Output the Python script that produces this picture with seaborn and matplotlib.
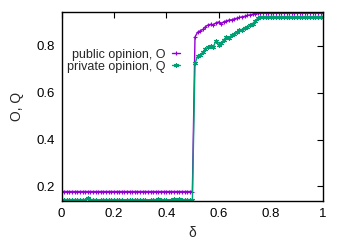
import numpy as np
import pandas as pd
import matplotlib
matplotlib.use("Agg")
import matplotlib.pyplot as plt
import seaborn as sns

delta = [round(i * 0.01, 2) for i in range(101)]

public_O = [
    0.178, 0.178, 0.178, 0.178, 0.178, 0.178, 0.178, 0.178, 0.178, 0.178,
    0.178, 0.178, 0.178, 0.178, 0.178, 0.178, 0.178, 0.178, 0.178, 0.178,
    0.178, 0.178, 0.178, 0.178, 0.178, 0.178, 0.178, 0.178, 0.178, 0.178,
    0.178, 0.178, 0.178, 0.178, 0.178, 0.178, 0.178, 0.178, 0.178, 0.178,
    0.178, 0.178, 0.178, 0.178, 0.178, 0.178, 0.178, 0.178, 0.178, 0.178,
    0.178,
    0.838, 0.858, 0.864, 0.870, 0.882, 0.889, 0.892, 0.890, 0.898, 0.902,
    0.894, 0.903, 0.906, 0.910, 0.911, 0.915, 0.918, 0.921, 0.924, 0.926,
    0.930, 0.932, 0.935, 0.938, 0.940,
    0.940, 0.940, 0.940, 0.940, 0.940, 0.940, 0.940, 0.940, 0.940, 0.940,
    0.940, 0.940, 0.940, 0.940, 0.940, 0.940, 0.940, 0.940, 0.940, 0.940,
    0.940, 0.940, 0.940, 0.940, 0.940,
]

private_Q = [
    0.140, 0.141, 0.140, 0.141, 0.140, 0.142, 0.141, 0.140, 0.140, 0.141,
    0.152, 0.142, 0.141, 0.140, 0.139, 0.140, 0.141, 0.140, 0.142, 0.141,
    0.140, 0.140, 0.141, 0.140, 0.139, 0.140, 0.140, 0.141, 0.140, 0.140,
    0.140, 0.141, 0.140, 0.139, 0.140, 0.140, 0.141, 0.146, 0.141, 0.140,
    0.140, 0.139, 0.141, 0.146, 0.142, 0.144, 0.141, 0.141, 0.140, 0.141,
    0.142,
    0.725, 0.755, 0.762, 0.772, 0.785, 0.795, 0.800, 0.794, 0.822, 0.805,
    0.812, 0.825, 0.838, 0.833, 0.846, 0.852, 0.858, 0.866, 0.869, 0.876,
    0.880, 0.887, 0.895, 0.905, 0.918,
    0.921, 0.921, 0.921, 0.921, 0.921, 0.921, 0.921, 0.921, 0.921, 0.921,
    0.921, 0.921, 0.921, 0.921, 0.921, 0.921, 0.921, 0.921, 0.921, 0.921,
    0.921, 0.921, 0.921, 0.921, 0.921,
]

series_names = ["public opinion, O", "private opinion, Q"]
colors = ["#9400D3", "#009E73"]
markers = ["+", (6, 2, 0)]

df = pd.DataFrame({
    "delta": delta * 2,
    "value": public_O + private_Q,
    "series": [series_names[0]] * len(delta) + [series_names[1]] * len(delta),
})

sns.set_style("white")
plt.rcParams["font.family"] = ["Liberation Sans", "DejaVu Sans"]

fig = plt.figure(figsize=(3.46, 2.42), dpi=100)
ax = fig.add_axes([0.178, 0.169, 0.756, 0.780])

for name, col, mk in zip(series_names, colors, markers):
    sns.lineplot(data=df[df.series == name], x="delta", y="value",
                 color=col, marker=mk, markersize=3.5, markeredgewidth=0.8,
                 markeredgecolor=col, markerfacecolor=col,
                 linewidth=1.0, label=name, ax=ax)

ax.set_xlim(0, 1)
ax.set_ylim(0.137, 0.943)
ax.set_xticks([0, 0.2, 0.4, 0.6, 0.8, 1])
ax.set_xticklabels(["0", "0.2", "0.4", "0.6", "0.8", "1"])
ax.set_yticks([0.2, 0.4, 0.6, 0.8])
ax.set_yticklabels(["0.2", "0.4", "0.6", "0.8"])
ax.tick_params(direction="in", length=4, width=0.8, labelsize=9.5, colors="black",
               top=True, right=True, pad=5)
for s in ax.spines.values():
    s.set_color("black")
    s.set_linewidth(1.0)
ax.set_xlabel("δ", fontsize=10, labelpad=4)
ax.set_ylabel("O, Q", fontsize=10, labelpad=9)

leg = ax.legend(loc="center right", bbox_to_anchor=(0.452, 0.744), frameon=False,
                markerfirst=False, fontsize=9, handlelength=0.65,
                handletextpad=0.5, labelspacing=0.0, borderaxespad=0.0,
                borderpad=0.0)
leg._legend_box.align = "right"

fig.savefig("out.png", dpi=100)
